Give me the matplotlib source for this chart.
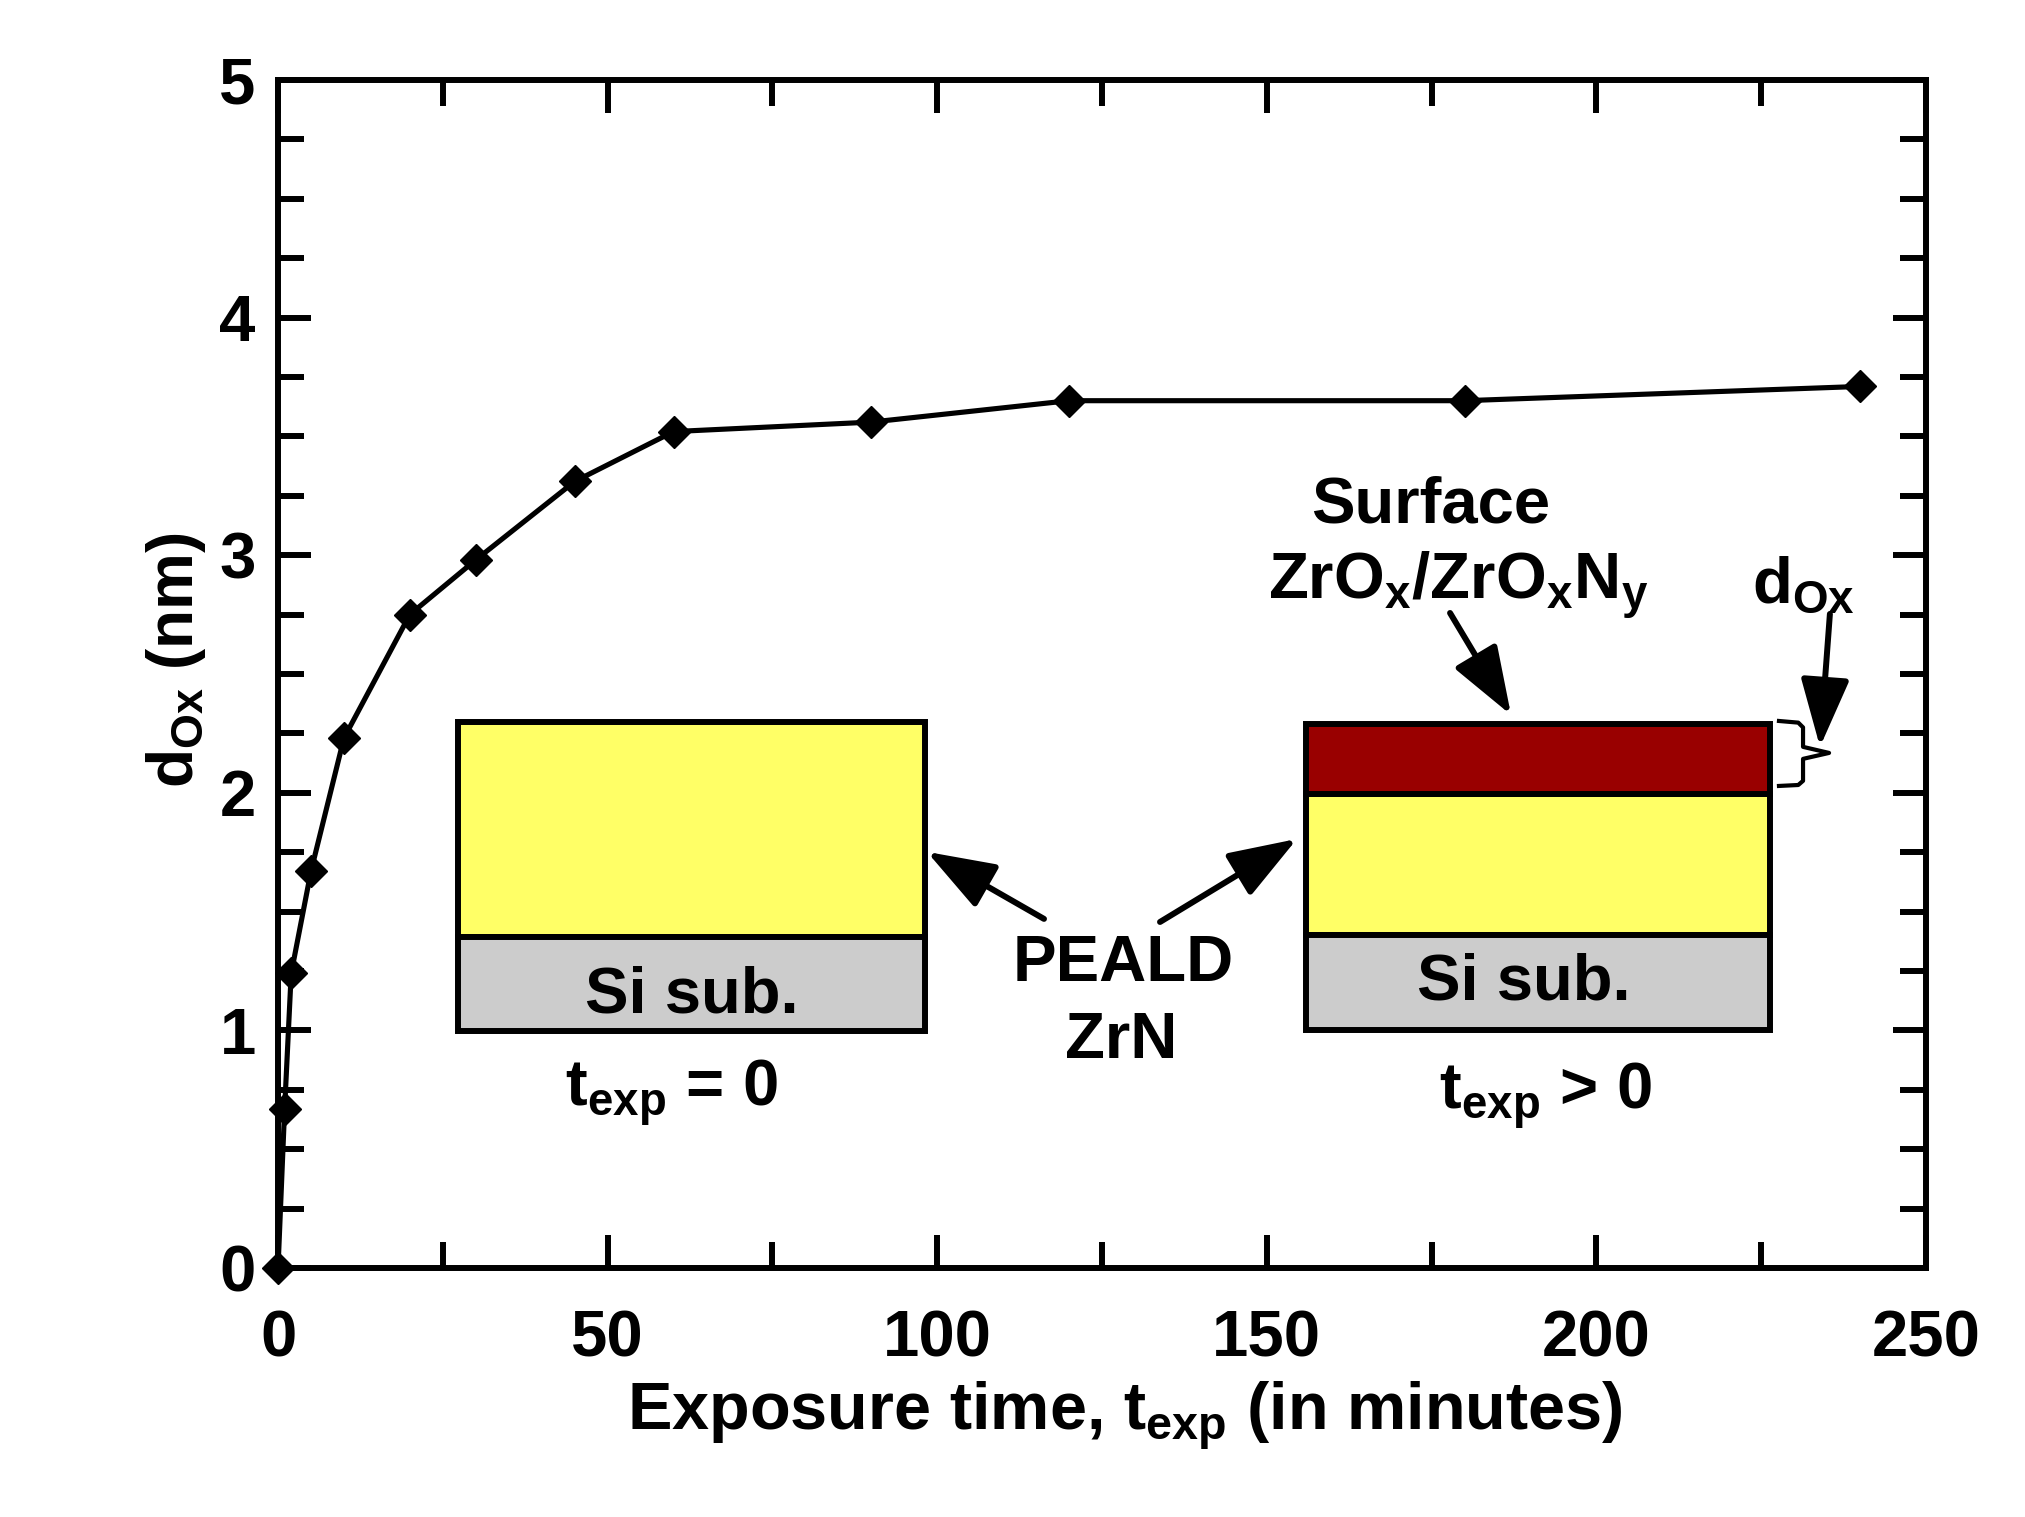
import matplotlib
matplotlib.use('Agg')
import matplotlib.pyplot as plt
from matplotlib.ticker import MultipleLocator
from matplotlib.patches import Rectangle

# ---- data ----
exposure_min = [0, 1, 2, 5, 10, 20, 30, 45, 60, 90, 120, 180, 240]
d_ox_nm = [0.0, 0.67, 1.24, 1.67, 2.23, 2.75, 2.98, 3.31, 3.52, 3.56, 3.65, 3.65, 3.71]
x_ticks = [0, 50, 100, 150, 200, 250]
y_ticks = [0, 1, 2, 3, 4, 5]

plt.rcParams['font.family'] = ['Liberation Sans', 'DejaVu Sans']
plt.rcParams['font.weight'] = 'bold'
plt.rcParams['mathtext.default'] = 'regular'

FS = 47
LW = 4.3

fig = plt.figure(figsize=(20.25, 15.17), dpi=100)
ax = fig.add_axes([0.1373, 0.1642, 0.8138, 0.7831])

ax.plot(exposure_min, d_ox_nm, color='black', lw=3.7, marker='D', ms=16,
        mfc='black', mec='black', mew=1, clip_on=False, zorder=5)

ax.set_xlim(0, 250)
ax.set_ylim(0, 5)
ax.set_xticks(x_ticks)
ax.set_yticks(y_ticks)
ax.xaxis.set_minor_locator(MultipleLocator(25))
ax.yaxis.set_minor_locator(MultipleLocator(0.25))
ax.tick_params(which='both', direction='in', top=True, right=True, width=LW,
               labelsize=FS)
ax.tick_params(which='major', length=24)
ax.tick_params(which='minor', length=19)
ax.tick_params(axis='x', which='major', pad=30)
ax.tick_params(axis='y', which='major', pad=16)
for lab in ax.get_xticklabels() + ax.get_yticklabels():
    lab.set_fontweight('bold')
for sp in ax.spines.values():
    sp.set_linewidth(LW)

ax.set_xlabel(r'Exposure time, t$_{exp}$ (in minutes)', fontsize=48,
              fontweight='bold')
ax.xaxis.label.set_va('baseline')
ax.xaxis.set_label_coords(0.5138, -0.1364)
ax.set_ylabel(r'd$_{Ox}$ (nm)', fontsize=46, fontweight='bold')
ax.yaxis.set_label_coords(-0.0425, 0.512)

T = ax.transAxes
YEL = '#FFFF66'
RED = '#990000'
GRY = '#CCCCCC'


def box(x0, x1, y0, y1, fc):
    ax.add_patch(Rectangle((x0, y0), x1 - x0, y1 - y0, transform=T, fc=fc,
                           ec='black', lw=LW, clip_on=False, zorder=4))


# left stack (t_exp = 0)
box(0.1092, 0.3923, 0.2786, 0.4596, YEL)
box(0.1092, 0.3923, 0.1995, 0.2786, GRY)
# right stack (t_exp > 0)
box(0.6238, 0.9053, 0.2800, 0.3990, YEL)
box(0.6238, 0.9053, 0.3990, 0.4579, RED)
box(0.6238, 0.9053, 0.2003, 0.2800, GRY)

txt = dict(transform=T, ha='center', va='baseline', fontsize=FS,
           fontweight='bold', zorder=6)
ax.text(0.2512, 0.2146, 'Si sub.', **txt)
ax.text(0.7560, 0.2260, 'Si sub.', **txt)
ax.text(0.2385, 0.1355, r't$_{exp}$ = 0', **txt)
ax.text(0.7688, 0.1330, r't$_{exp}$ > 0', **txt)
ax.text(0.5127, 0.2416, 'PEALD', **txt)
ax.text(0.5115, 0.1768, 'ZrN', **txt)
ax.text(0.6996, 0.6271, 'Surface', **txt)
ax.text(0.7160, 0.5623, r'ZrO$_{x}$/ZrO$_{x}$N$_{y}$', **txt)
ax.text(0.9254, 0.5598, r'd$_{Ox}$', **txt)

arrow = dict(arrowstyle='-|>,head_length=4.2,head_width=1.5', mutation_scale=10,
             lw=LW, color='black', shrinkA=0, shrinkB=0)
arrows = [((0.3938, 0.3502), (0.4648, 0.2938)),
          ((0.6183, 0.3611), (0.5352, 0.2912)),
          ((0.7482, 0.4655), (0.7112, 0.5513)),
          ((0.9357, 0.4386), (0.9417, 0.5505))]
for tip, tail in arrows:
    ax.annotate('', xy=tip, xytext=tail, xycoords='axes fraction',
                textcoords='axes fraction', arrowprops=arrow,
                annotation_clip=False, zorder=6)

# curly bracket marking the surface oxide thickness
bx = [0.9108, 0.9225, 0.9254, 0.9254, 0.9412, 0.9254, 0.9254, 0.9225, 0.9108]
by = [0.4604, 0.4590, 0.4550, 0.4386, 0.4335, 0.4285, 0.4100, 0.4065, 0.4057]
ax.plot(bx, by, transform=T, color='black', lw=3.0, clip_on=False,
        solid_joinstyle='round', zorder=6)

fig.savefig('out.png', dpi=100, facecolor='white')
